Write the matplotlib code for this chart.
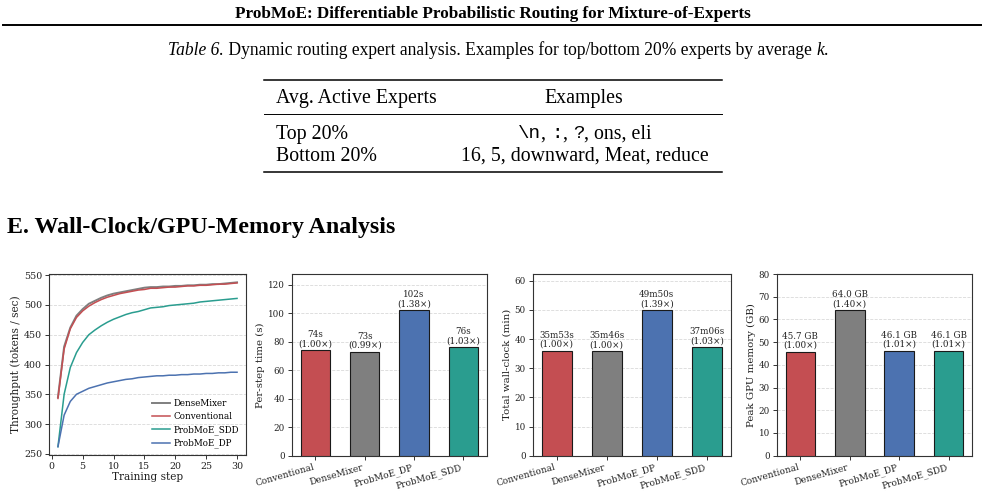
import matplotlib
matplotlib.use("Agg")
import matplotlib.pyplot as plt
import numpy as np

W, H = 985, 492

# ---------------- data ----------------
steps = list(range(1, 31))
dense_mixer = [345, 430, 462, 482, 493, 502, 507, 512, 516, 519, 521, 523, 525, 527, 529,
               530, 530, 531, 531, 532, 532, 533, 533, 534, 534, 535, 535, 536, 537, 538]
conventional = [343, 426, 460, 479, 490, 498, 504, 509, 513, 516, 519, 521, 523, 525, 526,
                528, 528, 529, 530, 530, 531, 532, 532, 533, 533, 534, 535, 535, 536, 537]
probmoe_sdd = [262, 350, 395, 420, 437, 450, 458, 465, 471, 476, 480, 484, 487, 489, 492,
               495, 496, 497, 499, 500, 501, 502, 503, 505, 506, 507, 508, 509, 510, 511]
probmoe_dp = [262, 315, 338, 350, 355, 360, 363, 366, 369, 371, 373, 375, 376, 378, 379,
              380, 381, 381, 382, 382, 383, 383, 384, 384, 385, 385, 386, 386, 387, 387]

methods = ["Conventional", "DenseMixer", "ProbMoE_DP", "ProbMoE_SDD"]
per_step_s = [74, 73, 102, 76]
per_step_ratio = [1.00, 0.99, 1.38, 1.03]
wall_min = [35, 35, 49, 37]
wall_sec = [53, 46, 50, 6]
wall_ratio = [1.00, 1.00, 1.39, 1.03]
mem_gb = [45.7, 64.0, 46.1, 46.1]
mem_ratio = [1.00, 1.40, 1.01, 1.01]

table_header = ["Avg. Active Experts", "Examples"]
table_rows = ["Top 20%", "Bottom 20%"]
bottom_examples = "16, 5, downward, Meat, reduce"

C_RED = "#c44e52"
C_GRAY = "#7f7f7f"
C_BLUE = "#4c72b0"
C_TEAL = "#2a9d8f"
bar_colors = [C_RED, C_GRAY, C_BLUE, C_TEAL]

SERIF = "Liberation Serif"
MONO = "Liberation Mono"
PLOTFONT = "DejaVu Serif"

fig = plt.figure(figsize=(W / 100, H / 100), dpi=100)
renderer = fig.canvas.get_renderer()


def fx(x):
    return x / W


def fy(y):
    return 1 - y / H


def measure(s, **kw):
    t1 = fig.text(0, 0, "|" + s + "|", **kw)
    t2 = fig.text(0, 0, "||", **kw)
    w = t1.get_window_extent(renderer).width - t2.get_window_extent(renderer).width
    t1.remove()
    t2.remove()
    return w


def runs_text(runs, x, y, ha="left"):
    widths = [measure(s, **kw) for s, kw in runs]
    total = sum(widths)
    x0 = x - total / 2 if ha == "center" else x
    for (s, kw), w in zip(runs, widths):
        fig.text(fx(x0), fy(y), s, ha="left", va="baseline", **kw)
        x0 += w


def hline(x0, x1, y, lw):
    fig.add_artist(plt.Line2D([fx(x0), fx(x1)], [fy(y), fy(y)], color="black", lw=lw,
                              transform=fig.transFigure))


# ---------------- page text ----------------
fig.text(fx(492.5), fy(18.3), "ProbMoE: Differentiable Probabilistic Routing for Mixture-of-Experts",
         ha="center", va="baseline", family=SERIF, weight="bold", size=12.3)
hline(3, 981, 25, 1.4)

reg = dict(family=SERIF, size=12.65)
ital = dict(family=SERIF, size=12.65, style="italic")
runs_text([("Table 6.", ital),
           (" Dynamic routing expert analysis. Examples for top/bottom 20% experts by average ", reg),
           ("k", ital), (".", reg)], 498.5, 54.5, ha="center")

tsize = 14.3
treg = dict(family=SERIF, size=tsize)
tmono = dict(family=MONO, size=tsize - 0.5)
hline(264, 722, 80, 1.1)
fig.text(fx(275.5), fy(103.5), table_header[0], ha="left", va="baseline", **treg)
fig.text(fx(584), fy(103.5), table_header[1], ha="center", va="baseline", **treg)
hline(264, 722, 114, 0.7)
fig.text(fx(275.5), fy(138.5), table_rows[0], ha="left", va="baseline", **treg)
runs_text([("\\n", tmono), (", ", treg), (":", tmono), (", ", treg), ("?", tmono),
           (", ons, eli", treg)], 585, 138.5, ha="center")
fig.text(fx(275.5), fy(161), table_rows[1], ha="left", va="baseline", **treg)
fig.text(fx(585), fy(161), bottom_examples, ha="center", va="baseline", **treg)
hline(264, 722, 172, 1.1)

fig.text(fx(7), fy(233.3), "E. Wall-Clock/GPU-Memory Analysis", ha="left", va="baseline",
         family=SERIF, weight="bold", size=17.3)

# ---------------- plots ----------------
plt.rcParams["font.family"] = PLOTFONT
SPINE = "#333333"


def add_ax(left, right, top, bottom, labelsize):
    ax = fig.add_axes([fx(left), fy(bottom), (right - left) / W, (bottom - top) / H])
    for s in ax.spines.values():
        s.set_color(SPINE)
        s.set_linewidth(0.8)
    ax.tick_params(colors=SPINE, labelcolor="#222222", length=3, width=0.7,
                   labelsize=labelsize, pad=2)
    ax.grid(axis="y", linestyle="--", color="#d9d9d9", linewidth=0.6)
    ax.set_axisbelow(True)
    return ax


# line chart
ax1 = add_ax(49, 246, 274, 455, 6.8)
ax1.plot(steps, dense_mixer, color=C_GRAY, lw=1.4, label="DenseMixer")
ax1.plot(steps, conventional, color=C_RED, lw=1.1, label="Conventional")
ax1.plot(steps, probmoe_sdd, color=C_TEAL, lw=1.1, label="ProbMoE_SDD")
ax1.plot(steps, probmoe_dp, color=C_BLUE, lw=1.1, label="ProbMoE_DP")
ax1.set_ylim(248, 552)
ax1.set_yticks(np.arange(250, 551, 50))
ax1.set_xticks([0, 5, 10, 15, 20, 25, 30])
ax1.set_xlabel("Training step", fontsize=7.6, labelpad=1, color="#222222")
ax1.set_ylabel("Throughput (tokens / sec)", fontsize=7.6, labelpad=2, color="#222222")
ax1.legend(loc="lower right", frameon=False, fontsize=6.3, handlelength=2.0,
           borderaxespad=0.35, labelspacing=0.45, handletextpad=0.5)


def bar_panel(left, right, values, labels, ylabel):
    ax = add_ax(left, right, 274, 455.7, 6.3)
    x = np.arange(len(methods))
    ax.bar(x, values, width=0.6, color=bar_colors, edgecolor="#1a1a1a", linewidth=0.8, zorder=3)
    ax.set_ylim(0, max(values) * 1.25)
    ax.set_xticks(x)
    ax.set_xticklabels(methods, rotation=16, ha="right", fontsize=6.5)
    ax.set_ylabel(ylabel, fontsize=7.4, labelpad=2, color="#222222")
    for xi, v, lab in zip(x, values, labels):
        ax.annotate(lab, (xi, v), xytext=(0, 1.5), textcoords="offset points",
                    ha="center", va="bottom", fontsize=6.3, linespacing=1.0, color="#222222")
    return ax


lab2 = [f"{v}s\n({r:.2f}×)" for v, r in zip(per_step_s, per_step_ratio)]
bar_panel(291.7, 487, per_step_s, lab2, "Per-step time (s)")

wall_vals = [m + s / 60 for m, s in zip(wall_min, wall_sec)]
lab3 = [f"{m}m{s:02d}s\n({r:.2f}×)" for m, s, r in zip(wall_min, wall_sec, wall_ratio)]
bar_panel(532.7, 730.7, wall_vals, lab3, "Total wall-clock (min)")

lab4 = [f"{v:.1f} GB\n({r:.2f}×)" for v, r in zip(mem_gb, mem_ratio)]
bar_panel(776.7, 972.3, mem_gb, lab4, "Peak GPU memory (GB)")

fig.savefig("out.png", dpi=100)
